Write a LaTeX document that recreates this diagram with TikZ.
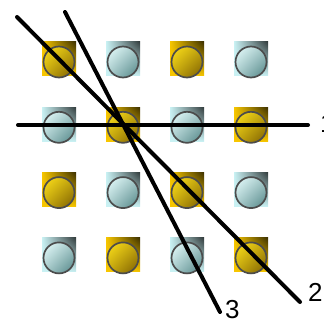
\documentclass[tikz,border=0pt]{standalone}
\usepackage{fontspec}
\setmainfont{Liberation Sans}
\usetikzlibrary{positioning, calc, shadings}

\definecolor{goldtile}{HTML}{F7C600}
\definecolor{goldhi}{HTML}{FFE21A}
\definecolor{goldlo}{HTML}{7A5C00}
\definecolor{icetile}{HTML}{C9F1F3}
\definecolor{icehi}{HTML}{E9FFFF}
\definecolor{icelo}{HTML}{4F8384}

\begin{document}
\begin{tikzpicture}[x=1pt, y=-1pt,
    tile/.style={minimum size=34pt, inner sep=0pt, upper left=tc, lower left=tc, lower right=tc, upper right=tc!25!black},
    ball/.style={circle, draw=black!70, line width=1.7pt, minimum size=31pt, inner sep=0pt, upper left=bh, upper right=bm, lower left=bm, lower right=bl},
    cut/.style={line width=4pt, line cap=round},
    tag/.style={font=\fontsize{26}{26}\selectfont, inner sep=0pt, anchor=west}]

    \useasboundingbox (0,0) rectangle (323,323);

    % Checkerboard of tiles and balls
    \foreach \r in {0,...,3}{
        \foreach \c in {0,...,3}{
            \pgfmathtruncatemacro{\odd}{mod(\r+\c,2)}
            \ifodd\odd
                \colorlet{tc}{icetile}\colorlet{bh}{icehi}\colorlet{bl}{icelo}
            \else
                \colorlet{tc}{goldtile}\colorlet{bh}{goldhi}\colorlet{bl}{goldlo}
            \fi
            \colorlet{bm}{bh!55!bl}
            \node[tile] (t-\r-\c) at (59+64*\c, 59+65.3*\r) {};
            \node[ball] (b-\r-\c) at (59+64*\c, 62+65.3*\r) {};
        }
    }

    % Cutting lines
    \coordinate (h0) at (18,125);
    \coordinate (h1) at (308,125);
    \coordinate (p0) at (17,17);
    \coordinate (p1) at (300,302);
    \coordinate (q0) at (65,12);
    \coordinate (q1) at (220,312);

    \draw[cut] (h0) -- (h1);
    \draw[cut] (p0) -- (p1);
    \draw[cut] (q0) -- (q1);

    % Labels
    \node[tag] (l1) at (320,124) {1};
    \node[tag] (l2) at (308,292) {2};
    \node[tag] (l3) at (225,310) {3};

\end{tikzpicture}
\end{document}
